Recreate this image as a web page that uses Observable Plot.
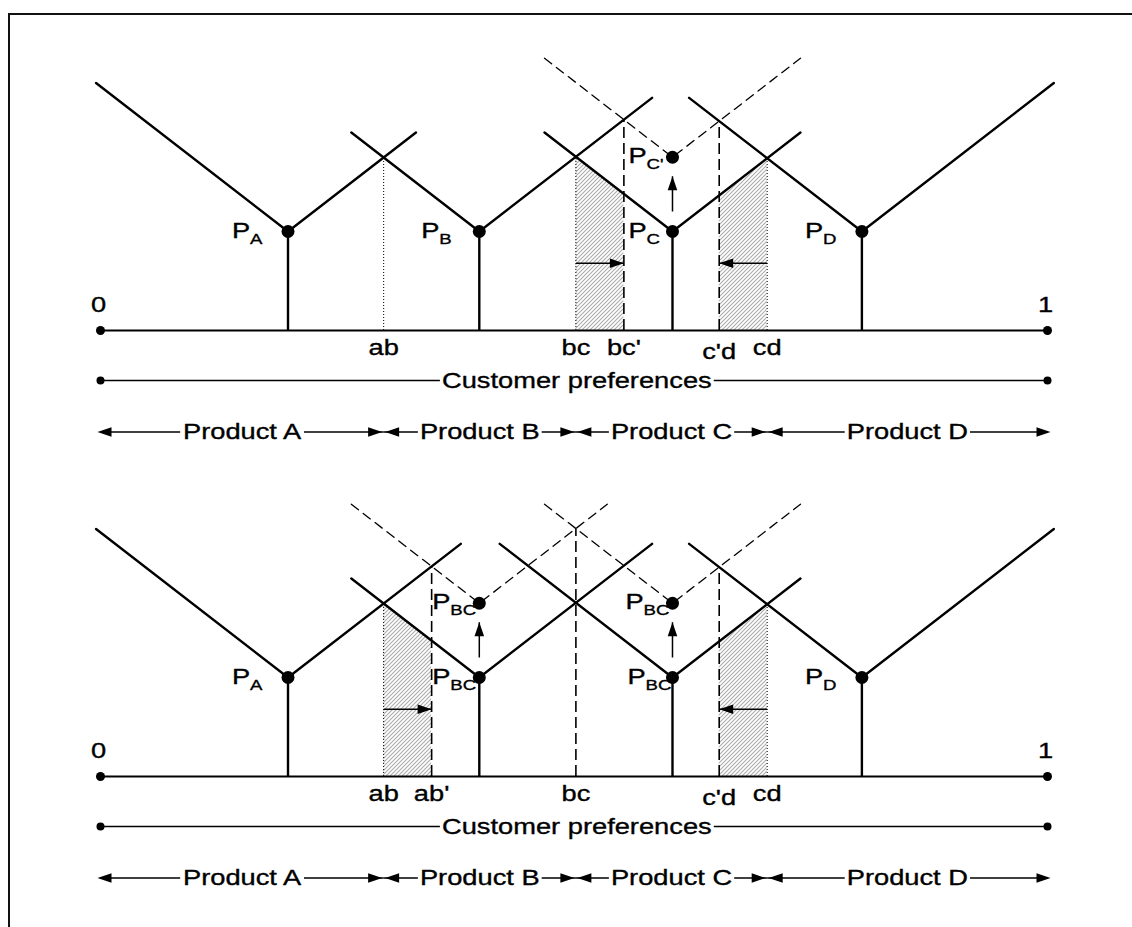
<!DOCTYPE html>
<html><head><meta charset="utf-8">
<script src="https://cdn.jsdelivr.net/npm/d3@7"></script>
<script src="https://cdn.jsdelivr.net/npm/@observablehq/plot@0.6"></script>
<style>
html,body{margin:0;padding:0;background:#fff;overflow:hidden}
#wrap{position:relative;width:1132px;height:927px}
#frame{position:absolute;left:8px;top:13px;width:1300px;height:1100px;border-left:2px solid #111;border-top:2px solid #111;pointer-events:none}
</style></head><body>
<svg width="0" height="0" style="position:absolute"><defs>
<pattern id="hatch" patternUnits="userSpaceOnUse" width="4" height="4">
<path d="M-1,1 l2,-2 M0,4 l4,-4 M3,5 l2,-2" stroke="#ababab" stroke-width="1.1"/>
</pattern></defs></svg>
<div id="wrap"><div id="frame"></div></div>
<script>
// ---------------- data ----------------
const firms = ["A", "B", "C", "D"];
const firmX = [0.198, 0.400, 0.604, 0.804];
const basePrice = 1.0;
const raisedPrice = 1.75;
const transportCost = 7.4;
const raisedArm = 2.75;

const topArmLeft = [2.5, 2.0, 2.0, 2.35];
const topArmRight = [2.0, 2.35, 2.0, 2.5];
const topRaised = ["C"];
const topSubscripts = ["A", "B", "C", "D"];
const topRaisedSubscripts = ["C'"];
const topBoundaryLabels = ["ab", "bc", "bc'", "c'd", "cd"];
const topBoundaryPairs = [["A", "B"], ["B", "C"], ["B", "C'"], ["C'", "D"], ["C", "D"]];
const topBoundaryStyle = ["dotted", "dotted", "dashed", "dashed", "dotted"];
const topShifts = [["bc", "bc'", "C", "left"], ["cd", "c'd", "C", "right"]];

const bottomArmLeft = [2.5, 2.0, 2.35, 2.35];
const bottomArmRight = [2.35, 2.35, 2.0, 2.5];
const bottomRaised = ["B", "C"];
const bottomSubscripts = ["A", "BC", "BC", "D"];
const bottomRaisedSubscripts = ["BC'", "BC'"];
const bottomBoundaryLabels = ["ab", "ab'", "bc", "c'd", "cd"];
const bottomBoundaryPairs = [["A", "B"], ["A", "B'"], ["B'", "C'"], ["C'", "D"], ["C", "D"]];
const bottomBoundaryStyle = ["dotted", "dashed", "dashed", "dashed", "dotted"];
const bottomShifts = [["ab", "ab'", "B", "left"], ["cd", "c'd", "C", "right"]];

const productLabels = ["Product A", "Product B", "Product C", "Product D"];
const axisTitle = "Customer preferences";
const endLabels = ["0", "1"];

// ---------------- style / layout ----------------
const FONT = "'Liberation Sans', Arial, Helvetica, sans-serif";
const FS = 22, SUB_FS = 15, STRETCH = 1.24;
const X_RANGE = [100, 1047];
const Y_RANGE = [330, 231];
const PX_X = X_RANGE[1] - X_RANGE[0];
const PX_Y = Y_RANGE[0] - Y_RANGE[1];
const CUST_Y = -0.505, PROD_Y = -1.025, ARROW_Y = 0.68;
const SUB_GAP = 18;
const topLabelDx = [-56, -58, -44, -57], topRaisedLabelDx = [-44];
const bottomLabelDx = [-56, -47, -45, -57], bottomRaisedLabelDx = [-47, -47];
const TXT = {fill: "black", stroke: "black", strokeWidth: 0.35};

const measureCtx = document.createElement("canvas").getContext("2d");
measureCtx.font = `${FS}px ${FONT}`;
const textW = (s) => measureCtx.measureText(s).width * STRETCH;

const HL = 14, HW = 4.8;
const headRight = {draw(c) { c.moveTo(0, 0); c.lineTo(-HL, -HW); c.lineTo(-HL, HW); c.closePath(); }};
const headLeft = {draw(c) { c.moveTo(0, 0); c.lineTo(HL, -HW); c.lineTo(HL, HW); c.closePath(); }};
const headUp = {draw(c) { c.moveTo(0, 0); c.lineTo(-HW, HL); c.lineTo(HW, HL); c.closePath(); }};

function parse(tok) {
  return {i: firms.indexOf(tok[0]), p: tok.endsWith("'") ? raisedPrice : basePrice};
}
function meet(l, r) {
  const x = (firmX[l.i] + firmX[r.i]) / 2 + (r.p - l.p) / (2 * transportCost);
  return {x, y: l.p + transportCost * (x - firmX[l.i])};
}

function panel(cfg) {
  const t = transportCost;
  const arms = [], raisedArms = [], stems = [], dotsP = [], labs = [];
  firms.forEach((f, i) => {
    const x = firmX[i], p = basePrice;
    arms.push({id: f, x: x - (cfg.armL[i] - p) / t, y: cfg.armL[i]}, {id: f, x, y: p},
              {id: f, x: x + (cfg.armR[i] - p) / t, y: cfg.armR[i]});
    stems.push({x, y1: 0, y2: p});
    dotsP.push({x, y: p});
    labs.push({x, y: p, sub: cfg.subs[i], dx: cfg.labelDx[i]});
  });
  const upArrows = [];
  cfg.raised.forEach((f, k) => {
    const i = firms.indexOf(f), x = firmX[i], p = raisedPrice;
    raisedArms.push({id: f, x: x - (raisedArm - p) / t, y: raisedArm}, {id: f, x, y: p},
                    {id: f, x: x + (raisedArm - p) / t, y: raisedArm});
    dotsP.push({x, y: p});
    labs.push({x, y: p, sub: cfg.raisedSubs[k], dx: cfg.raisedLabelDx[k]});
    upArrows.push({x, y1: basePrice + 20 / PX_Y, y2: p - 19 / PX_Y});
  });
  const bounds = cfg.boundaryLabels.map((lab, k) => {
    const [a, b] = cfg.pairs[k];
    const m = meet(parse(a), parse(b));
    return {label: lab, x: m.x, y1: 0, y2: m.y, style: cfg.boundaryStyle[k], dy: lab === "c'd" ? 28 : 24};
  });
  const B = Object.fromEntries(bounds.map((d) => [d.label, d]));
  const shade = [], hArrows = [];
  cfg.shifts.forEach(([from, to, f, side], k) => {
    const i = firms.indexOf(f);
    const xsx = [B[from].x, B[to].x].sort((a, b) => a - b);
    for (const x of xsx) shade.push({id: k, x, y1: 0, y2: basePrice + t * (side === "left" ? firmX[i] - x : x - firmX[i])});
    hArrows.push({x1: B[from].x, x2: B[to].x, y: ARROW_Y, right: B[to].x > B[from].x});
  });

  // rows below the axis
  const pb = [0, meet(parse("A"), parse("B")).x, meet(parse("B"), parse("C")).x, meet(parse("C"), parse("D")).x, 1];
  const rowSegs = [], rowText = [], hL = [], hR = [];
  productLabels.forEach((lab, k) => {
    const a = pb[k], b = pb[k + 1], c = (a + b) / 2, half = (textW(lab) / 2 + 2) / PX_X;
    rowSegs.push({x1: a, x2: c - half, y: PROD_Y}, {x1: c + half, x2: b, y: PROD_Y});
    rowText.push({x: c, y: PROD_Y, text: lab});
    hL.push({x: a, y: PROD_Y, end: k === 0});
    hR.push({x: b, y: PROD_Y, end: k === productLabels.length - 1});
  });
  const cHalf = (textW(axisTitle) / 2 + 2) / PX_X, cMid = 0.503;
  rowSegs.push({x1: 0, x2: cMid - cHalf, y: CUST_Y}, {x1: cMid + cHalf, x2: 1, y: CUST_Y});
  rowText.push({x: cMid, y: CUST_Y, text: axisTitle});

  const svg = Plot.plot({
    width: 1132, height: 446, margin: 0,
    style: {fontFamily: FONT, background: "transparent", overflow: "visible"},
    x: {domain: [0, 1], range: X_RANGE, axis: null},
    y: {domain: [0, 1], range: Y_RANGE, axis: null},
    marks: [
      Plot.area(shade, {x1: "x", y1: "y1", y2: "y2", z: "id", fill: "url(#hatch)"}),
      Plot.ruleX(bounds.filter((d) => d.style === "dotted"), {x: "x", y1: "y1", y2: "y2", stroke: "black", strokeWidth: 1, strokeDasharray: "1,2"}),
      Plot.ruleX(bounds.filter((d) => d.style === "dashed"), {x: "x", y1: "y1", y2: "y2", stroke: "black", strokeWidth: 1.6, strokeDasharray: "11,5"}),
      Plot.line(raisedArms, {x: "x", y: "y", z: "id", stroke: "black", strokeWidth: 1.3, strokeDasharray: "9,6"}),
      Plot.line(arms, {x: "x", y: "y", z: "id", stroke: "black", strokeWidth: 2.4, strokeLinejoin: "miter"}),
      Plot.ruleX(stems, {x: "x", y1: "y1", y2: "y2", stroke: "black", strokeWidth: 2.4}),
      Plot.ruleY([{y: 0, x1: 0, x2: 1}], {y: "y", x1: "x1", x2: "x2", stroke: "black", strokeWidth: 2}),
      Plot.dot([{x: 0, y: 0}, {x: 1, y: 0}], {x: "x", y: "y", r: 4.5, fill: "black", stroke: "none"}),
      Plot.dot(dotsP, {x: "x", y: "y", r: 6.5, fill: "black", stroke: "none"}),
      // arrows
      Plot.link(upArrows, {x1: "x", x2: "x", y1: "y1", y2: "y2", stroke: "black", strokeWidth: 1.5}),
      Plot.dot(upArrows, {x: "x", y: "y2", symbol: headUp, fill: "black", stroke: "none"}),
      Plot.link(hArrows, {x1: "x1", x2: "x2", y1: "y", y2: "y", stroke: "black", strokeWidth: 1.5}),
      Plot.dot(hArrows.filter((d) => d.right), {x: "x2", y: "y", symbol: headRight, fill: "black", stroke: "none"}),
      Plot.dot(hArrows.filter((d) => !d.right), {x: "x2", y: "y", symbol: headLeft, fill: "black", stroke: "none"}),
      // rows
      Plot.link(rowSegs, {x1: "x1", x2: "x2", y1: "y", y2: "y", stroke: "black", strokeWidth: 1.4}),
      Plot.dot([{x: 0, y: CUST_Y}, {x: 1, y: CUST_Y}], {x: "x", y: "y", r: 4, fill: "black", stroke: "none"}),
      Plot.dot(hL.filter((d) => !d.end), {x: "x", y: "y", symbol: headLeft, fill: "black", stroke: "none", dx: 1.5}),
      Plot.dot(hL.filter((d) => d.end), {x: "x", y: "y", symbol: headLeft, fill: "black", stroke: "none", dx: -3}),
      Plot.dot(hR.filter((d) => !d.end), {x: "x", y: "y", symbol: headRight, fill: "black", stroke: "none", dx: -1.5}),
      Plot.dot(hR.filter((d) => d.end), {x: "x", y: "y", symbol: headRight, fill: "black", stroke: "none", dx: 3}),
      Plot.text(rowText, {x: "x", y: "y", text: "text", fontSize: FS, ...TXT, lineAnchor: "middle"}),
      // labels
      Plot.text(endLabels, {x: (d, i) => i, y: () => 0, text: (d) => d, fontSize: FS, ...TXT, lineAnchor: "bottom", dy: -19, dx: -2}),
      Plot.text(bounds.filter((d) => d.dy === 24), {x: "x", y: () => 0, text: "label", fontSize: FS, ...TXT, lineAnchor: "bottom", dy: 24}),
      Plot.text(bounds.filter((d) => d.dy === 28), {x: "x", y: () => 0, text: "label", fontSize: FS, ...TXT, lineAnchor: "bottom", dy: 28}),
      ...labs.map((d) => Plot.text([d], {x: "x", y: "y", text: () => "P", fontSize: FS, ...TXT, textAnchor: "start", lineAnchor: "bottom", dx: d.dx, dy: 6})),
      ...labs.map((d) => Plot.text([d], {x: "x", y: "y", text: "sub", fontSize: SUB_FS, ...TXT, textAnchor: "start", lineAnchor: "bottom", dx: d.dx + SUB_GAP, dy: 12}))
    ]
  });
  svg.querySelectorAll("text").forEach((el) => {
    el.setAttribute("transform", (el.getAttribute("transform") || "") + ` scale(${STRETCH},1)`);
  });
  return svg;
}

const wrap = document.getElementById("wrap");
const top1 = panel({armL: topArmLeft, armR: topArmRight, raised: topRaised, subs: topSubscripts,
  raisedSubs: topRaisedSubscripts, labelDx: topLabelDx, raisedLabelDx: topRaisedLabelDx,
  boundaryLabels: topBoundaryLabels, pairs: topBoundaryPairs, boundaryStyle: topBoundaryStyle, shifts: topShifts});
const bot1 = panel({armL: bottomArmLeft, armR: bottomArmRight, raised: bottomRaised, subs: bottomSubscripts,
  raisedSubs: bottomRaisedSubscripts, labelDx: bottomLabelDx, raisedLabelDx: bottomRaisedLabelDx,
  boundaryLabels: bottomBoundaryLabels, pairs: bottomBoundaryPairs, boundaryStyle: bottomBoundaryStyle, shifts: bottomShifts});
for (const [s, top] of [[top1, 0], [bot1, 446]]) {
  s.style.position = "absolute"; s.style.left = "0px"; s.style.top = top + "px";
  s.style.maxWidth = "none";
  wrap.insertBefore(s, document.getElementById("frame"));
}
</script>
</body></html>
